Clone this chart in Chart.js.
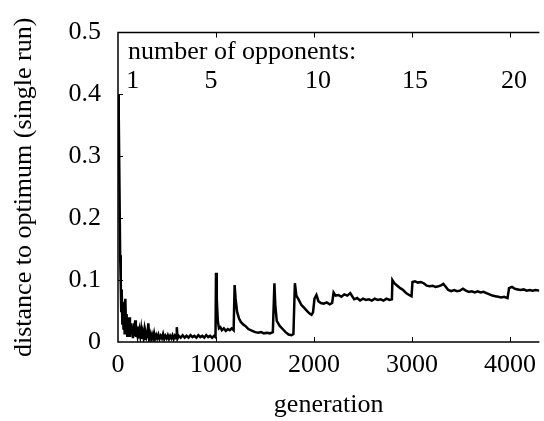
<!DOCTYPE html>
<html>
<head>
<meta charset="utf-8">
<script src="https://cdn.jsdelivr.net/npm/chart.js@4/dist/chart.umd.min.js"></script>
<style>
  html, body { margin: 0; padding: 0; background: #fff; }
  canvas { display: block; }
</style>
</head>
<body>
<canvas id="distChart" width="544" height="421"></canvas>
<script>
/* ── data ── */
const gens = [
    0, 8, 15, 22, 28, 33, 38, 44, 50, 56, 62, 68, 75, 82, 88, 94, 100, 108, 115, 122,
    130, 138, 145, 152, 160, 168, 175, 182, 190, 198, 205, 212, 220, 228, 236, 244, 252, 260, 268, 276,
    284, 292, 300, 310, 318, 328, 338, 348, 358, 368, 378, 390, 400, 412, 424, 436, 448, 460, 472, 484,
    496, 508, 520, 532, 544, 556, 568, 580, 592, 600, 608, 620, 640, 660, 680, 700, 720, 740, 760, 780,
    800, 820, 840, 860, 880, 900, 920, 940, 960, 980, 995,
    1000, 1008, 1018, 1030, 1045, 1060, 1080, 1100, 1120, 1140, 1160, 1180,
    1190, 1200, 1215, 1235, 1255, 1280, 1300, 1330, 1370, 1400, 1430, 1460, 1490, 1520, 1550, 1580,
    1596, 1605, 1620, 1650, 1680, 1710, 1740, 1770, 1790,
    1805, 1820, 1845, 1870, 1900, 1930, 1955, 1975, 1990,
    2005, 2025, 2045, 2070, 2100, 2130, 2160, 2185,
    2200, 2220, 2250, 2280, 2310, 2340, 2370, 2390, 2410, 2440, 2470, 2500, 2530, 2560, 2590, 2620,
    2650, 2680, 2710, 2740, 2770, 2795,
    2800, 2820, 2850, 2880, 2910, 2940, 2970, 2995,
    3005, 3030, 3060, 3090, 3120, 3150, 3180, 3210, 3240, 3270, 3300, 3320, 3350, 3370, 3400, 3430,
    3460, 3490, 3520, 3550, 3580, 3610, 3640, 3670, 3700, 3730, 3760, 3790, 3820, 3850, 3880, 3910,
    3940, 3975, 3990, 4020, 4050, 4080, 4110, 4140, 4170, 4200, 4230, 4260, 4300
];
const dist = [
    0.400, 0.360, 0.250, 0.140, 0.095, 0.050, 0.085, 0.030, 0.065, 0.020, 0.050, 0.012, 0.070, 0.020, 0.045, 0.010, 0.035, 0.015, 0.040, 0.008,
    0.030, 0.012, 0.025, 0.006, 0.030, 0.010, 0.035, 0.008, 0.020, 0.012, 0.025, 0.006, 0.018, 0.010, 0.020, 0.005, 0.015, 0.008, 0.018, 0.005,
    0.014, 0.008, 0.012, 0.030, 0.006, 0.013, 0.005, 0.012, 0.006, 0.014, 0.005, 0.011, 0.006, 0.012, 0.005, 0.010, 0.006, 0.013, 0.005, 0.010,
    0.006, 0.011, 0.005, 0.010, 0.006, 0.011, 0.005, 0.010, 0.006, 0.024, 0.006, 0.010, 0.007, 0.011, 0.007, 0.010, 0.007, 0.011, 0.008, 0.010,
    0.007, 0.011, 0.008, 0.010, 0.007, 0.011, 0.008, 0.010, 0.007, 0.010, 0.008,
    0.112, 0.070, 0.035, 0.022, 0.024, 0.019, 0.022, 0.018, 0.021, 0.019, 0.022, 0.019,
    0.092, 0.070, 0.049, 0.038, 0.032, 0.028, 0.026, 0.021, 0.018, 0.016, 0.015, 0.016, 0.014, 0.015, 0.014, 0.016,
    0.095, 0.060, 0.034, 0.026, 0.021, 0.016, 0.012, 0.011, 0.013,
    0.095, 0.075, 0.068, 0.060, 0.055, 0.050, 0.046, 0.044, 0.048,
    0.070, 0.076, 0.066, 0.063, 0.062, 0.064, 0.061, 0.063,
    0.080, 0.075, 0.076, 0.073, 0.077, 0.075, 0.079, 0.074, 0.069, 0.071, 0.067, 0.070, 0.068, 0.069, 0.067, 0.070,
    0.068, 0.069, 0.067, 0.070, 0.068, 0.069,
    0.100, 0.095, 0.091, 0.087, 0.084, 0.079, 0.076, 0.074,
    0.097, 0.098, 0.096, 0.097, 0.095, 0.091, 0.090, 0.091, 0.089, 0.090, 0.092, 0.094, 0.088, 0.084, 0.082, 0.084,
    0.082, 0.083, 0.086, 0.083, 0.081, 0.082, 0.080, 0.082, 0.080, 0.081, 0.079, 0.077, 0.075, 0.074, 0.073, 0.072,
    0.073, 0.071, 0.087, 0.089, 0.086, 0.085, 0.084, 0.085, 0.083, 0.084, 0.083, 0.084, 0.083
];
const xTicks = [0, 1000, 2000, 3000, 4000];
const yTicks = [0, 0.1, 0.2, 0.3, 0.4, 0.5];
const opponentLabels = ['1', '5', '10', '15', '20'];
const opponentGens   = [150, 950, 2040, 3030, 4040];

const SERIF = '"Liberation Serif"';

/* ── frame, inward ticks and the opponents annotation ── */
const framePlugin = {
    id: 'frame',
    afterDatasetsDraw(chart) {
        const { ctx, chartArea: a, scales: { x, y } } = chart;
        ctx.save();
        ctx.strokeStyle = '#000';
        ctx.lineWidth = 1.5;
        ctx.beginPath();
        ctx.moveTo(a.right, a.top);
        ctx.lineTo(a.left, a.top);
        ctx.lineTo(a.left, a.bottom);
        ctx.lineTo(a.right, a.bottom);
        ctx.stroke();

        ctx.lineWidth = 1;
        ctx.beginPath();
        yTicks.slice(1, -1).forEach(v => {
            const py = Math.round(y.getPixelForValue(v)) + 0.5;
            ctx.moveTo(a.left, py);
            ctx.lineTo(a.left + 5, py);
        });
        xTicks.slice(1).forEach(v => {
            const px = Math.round(x.getPixelForValue(v)) + 0.5;
            ctx.moveTo(px, a.bottom);
            ctx.lineTo(px, a.bottom - 5);
            ctx.moveTo(px, a.top);
            ctx.lineTo(px, a.top + 5);
        });
        ctx.stroke();

        ctx.fillStyle = '#000';
        ctx.font = '26px ' + SERIF;
        ctx.textBaseline = 'alphabetic';
        ctx.textAlign = 'left';
        ctx.fillText('number of opponents:', a.left + 10, a.top + 26);
        ctx.textAlign = 'center';
        opponentLabels.forEach((t, i) => {
            ctx.fillText(t, x.getPixelForValue(opponentGens[i]), a.top + 55);
        });
        ctx.restore();
    }
};

function initDistChart() {
    new Chart(document.getElementById('distChart'), {
        type: 'line',
        data: {
            labels: gens,
            datasets: [{
                data: dist,
                borderColor: '#000',
                borderWidth: 2.5,
                pointRadius: 0,
                tension: 0,
                fill: false
            }]
        },
        options: {
            responsive: false,
            animation: false,
            devicePixelRatio: 1,
            layout: { padding: { top: 31, right: 0, bottom: 0, left: 0 } },
            plugins: { legend: { display: false }, tooltip: { enabled: false } },
            scales: {
                x: {
                    type: 'linear',
                    min: 0, max: 4300,
                    afterBuildTicks: s => { s.ticks = xTicks.map(v => ({ value: v })); },
                    afterFit: s => { s.height = 79; },
                    grid: { display: false, drawTicks: false },
                    border: { display: false },
                    ticks: {
                        color: '#000', padding: 8, maxRotation: 0,
                        callback: v => String(v),
                        font: { size: 26, family: SERIF }
                    },
                    title: {
                        display: true, text: 'generation', color: '#000',
                        padding: { top: 0, bottom: 0 },
                        font: { size: 26, family: SERIF }
                    }
                },
                y: {
                    min: 0, max: 0.5,
                    afterBuildTicks: s => { s.ticks = yTicks.map(v => ({ value: v })); },
                    afterFit: s => { s.width = 118; },
                    grid: { display: false, drawTicks: false },
                    border: { display: false },
                    ticks: {
                        color: '#000', padding: 17,
                        callback: v => String(v),
                        font: { size: 26, family: SERIF }
                    },
                    title: {
                        display: true, text: 'distance to optimum (single run)', color: '#000',
                        padding: { top: 9, bottom: 0 },
                        font: { size: 26, family: SERIF }
                    }
                }
            }
        },
        plugins: [framePlugin]
    });
}

document.fonts.load('26px "Liberation Serif"').then(initDistChart, initDistChart);
</script>
</body>
</html>
